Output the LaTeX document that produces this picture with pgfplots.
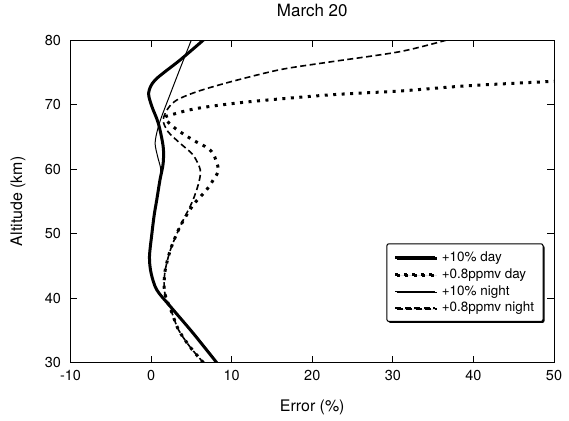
\documentclass[border=0pt]{standalone}
\usepackage{fontspec}
\setmainfont{TeX Gyre Heros}
\usepackage{pgfplots}
\pgfplotsset{compat=1.18}
\usetikzlibrary{shadows}

\begin{document}
\begin{tikzpicture}
\useasboundingbox (-70.5bp,-58.3bp) rectangle (498.5bp,362.7bp);
\begin{axis}[
  at={(0,0)}, anchor=south west,
  scale only axis, width=483.5bp, height=322.7bp,
  xmin=-10, xmax=50, ymin=30, ymax=80,
  xtick={-10,0,...,50}, ytick={30,40,...,80},
  tick align=inside, major tick length=7bp,
  axis line style={line width=0.8bp},
  every tick/.style={black, line width=0.8bp},
  /pgf/number format/assume math mode=true,
  tick label style={font=\fontsize{14.5}{16}\selectfont},
  xticklabel style={yshift=-4bp},
  yticklabel style={xshift=-6bp},
  title={March 20},
  title style={font=\fontsize{17}{20}\selectfont, at={(axis description cs:0.5,1)}, anchor=center, yshift=24bp},
  xlabel={Error (\%)},
  ylabel={Altitude (km)},
  label style={font=\fontsize{16}{19}\selectfont},
  xlabel style={at={(axis description cs:0.5,0)}, anchor=center, yshift=-45bp},
  ylabel style={at={(axis description cs:-0.1086,0.5)}, anchor=center},
  legend style={at={(axis cs:29.2,48.5)}, anchor=north west, draw=black,
    line width=1bp, rounded corners=2bp,
    font=\fontsize{13.5}{16}\selectfont, inner xsep=7bp, inner ysep=6bp,
    row sep=1.5bp, cells={anchor=west},
    /tikz/every odd column/.append style={column sep=3bp},
    general shadow={fill=black, shadow xshift=1.5bp, shadow yshift=-1.5bp}},
  legend image code/.code={\draw[#1] (0bp,0bp) -- (40bp,0bp);},
  every axis plot/.append style={smooth, tension=0.5, black},
  clip=true,
]
% +10% day
\addplot[line width=3bp] coordinates {
(8.15,30)(5.2,34.6)(2.4,38.7)(0.7,41.3)(0,43.9)(-0.2,46.4)(0.1,50)(0.4,53)
(0.7,55.2)(1.1,58.3)(1.5,60.9)(1.5,63.5)(0.9,67.1)(0.1,69.7)(-0.3,71.8)
(0.5,73.8)(3.6,76.9)(6.5,80)};
\addlegendentry{+10\% day}
% +0.8ppmv day
\addplot[line width=3bp, dash pattern=on 3bp off 5.5bp] coordinates {
(6.5,30)(4.8,32.5)(3.4,35.1)(2.6,37.7)(1.7,40.8)(1.7,43.9)(2.4,47.5)(3.6,51.1)
(5.2,54.4)(6.9,56.8)(7.7,58.3)(8.35,59.9)(7.7,62.4)(6.7,63.5)(5.2,64.5)(3.0,66.3)
(1.7,67.9)(2.5,68.4)(5.7,69.4)(11.9,70.4)(22.2,71.5)(30.9,72.1)(39.2,72.9)(50,73.6)};
\addlegendentry{+0.8ppmv day}
% +10% night
\addplot[line width=1bp] coordinates {
(8.15,30)(5.2,34.6)(2.4,38.7)(0.7,41.3)(0,43.9)(-0.2,46.4)(0.1,50)(0.4,53)
(0.7,55.2)(1.1,58.3)(1.2,60)(0.8,62)(0.5,64)(0.8,66.1)(1.3,68.1)(2.4,71.7)
(3.7,75.9)(5.0,80)};
\addlegendentry{+10\% night}
% +0.8ppmv night
\addplot[line width=1.6bp, dash pattern=on 6bp off 3.5bp] coordinates {
(6.5,30)(4.8,32.5)(3.4,35.1)(2.6,37.7)(1.7,40.8)(1.7,43.9)(2.4,47.5)(3.6,51.1)
(4.4,53.1)(5.2,55.2)(5.9,57.8)(6.1,59.9)(5.2,62.2)(3.6,64)(2.1,65.8)(1.5,67.6)
(2.1,69.4)(3.2,70.7)(5.7,72)(9.8,73.5)(16,75.4)(22.2,76.6)(30.9,78.2)(36.7,80)};
\addlegendentry{+0.8ppmv night}
\end{axis}
\end{tikzpicture}
\end{document}
